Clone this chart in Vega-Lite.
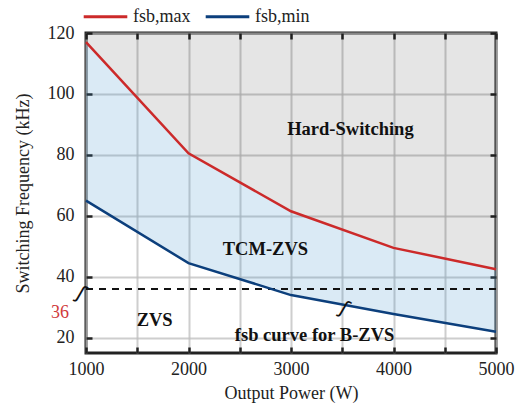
{
  "$schema": "https://vega.github.io/schema/vega-lite/v6.json",
  "width": 410,
  "height": 320,
  "autosize": "none",
  "padding": {"left": 86, "top": 33, "right": 26, "bottom": 56},
  "config": {
    "view": {"stroke": "#222222", "strokeWidth": 3},
    "font": "Liberation Serif",
    "axis": {
      "labelFont": "Liberation Serif",
      "titleFont": "Liberation Serif",
      "labelFontSize": 18,
      "titleFontSize": 18,
      "labelColor": "#222222",
      "titleColor": "#222222",
      "titleFontWeight": "normal",
      "domain": false,
      "tickColor": "#222222",
      "tickWidth": 2.5,
      "tickSize": -6,
      "gridColor": "#bdbdbd",
      "gridWidth": 2,
      "gridOpacity": 0.75
    }
  },
  "datasets": {
    "curves": [
      {"P": 1000, "fmax": 117, "fmin": 65},
      {"P": 2000, "fmax": 80.5, "fmin": 44.5},
      {"P": 3000, "fmax": 61.5, "fmin": 34},
      {"P": 4000, "fmax": 49.5, "fmin": 27.8},
      {"P": 5000, "fmax": 42.5, "fmin": 22}
    ],
    "notes": [
      {"P": 3580, "f": 88.5, "label": "Hard-Switching"},
      {"P": 2750, "f": 49, "label": "TCM-ZVS"},
      {"P": 1670, "f": 25.7, "label": "ZVS"},
      {"P": 3230, "f": 21, "label": "fsb curve for B-ZVS"}
    ]
  },
  "resolve": {"axis": {"x": "independent", "y": "independent"}},
  "layer": [
    {
      "data": {"name": "curves"},
      "mark": {"type": "area", "fill": "#000000", "fillOpacity": 0.1},
      "encoding": {
        "x": {
          "field": "P", "type": "quantitative",
          "scale": {"domain": [1000, 5000], "nice": false},
          "axis": {
            "title": "Output Power (W)",
            "values": [1000, 1500, 2000, 2500, 3000, 3500, 4000, 4500, 5000],
            "labelExpr": "datum.value % 1000 == 0 ? datum.value : ''",
            "labelFlush": false,
            "labelPadding": 13,
            "titlePadding": 6,
            "orient": "bottom"
          }
        },
        "y": {
          "field": "fmax", "type": "quantitative",
          "scale": {"domain": [15, 120], "nice": false},
          "axis": {
            "title": "Switching Frequency (kHz)",
            "values": [20, 40, 60, 80, 100, 120],
            "labelPadding": 18,
            "titlePadding": 15,
            "orient": "left"
          }
        },
        "y2": {"datum": 120}
      }
    },
    {
      "data": {"name": "curves"},
      "mark": {"type": "area", "fill": "#3d8fcc", "fillOpacity": 0.19},
      "encoding": {
        "x": {"field": "P", "type": "quantitative", "axis": null},
        "y": {"field": "fmin", "type": "quantitative", "axis": null},
        "y2": {"field": "fmax"}
      }
    },
    {
      "data": {"name": "curves"},
      "mark": {"type": "rule", "strokeDash": [7, 6], "strokeWidth": 2, "color": "#111111"},
      "encoding": {
        "y": {"datum": 36, "type": "quantitative", "axis": null}
      }
    },
    {
      "data": {"name": "curves"},
      "transform": [{"fold": ["fmax", "fmin"], "as": ["series", "f"]}],
      "mark": {"type": "line", "strokeWidth": 2.5},
      "encoding": {
        "x": {"field": "P", "type": "quantitative", "axis": null},
        "y": {"field": "f", "type": "quantitative", "axis": null},
        "color": {
          "field": "series", "type": "nominal",
          "scale": {"domain": ["fmax", "fmin"], "range": ["#cc2a2a", "#0c3f7c"]},
          "legend": {
            "title": null,
            "orient": "none",
            "direction": "horizontal",
            "legendX": -4,
            "legendY": -40,
            "symbolType": "stroke",
            "symbolSize": 1900,
            "symbolStrokeWidth": 3,
            "labelFont": "Liberation Serif",
            "labelFontSize": 18,
            "labelColor": "#222222",
            "columnPadding": 8,
            "labelOffset": 4,
            "labelExpr": "datum.value == 'fmax' ? 'fsb,max' : 'fsb,min'"
          }
        }
      }
    },
    {
      "data": {"name": "notes"},
      "mark": {"type": "text", "fontWeight": "bold", "fontSize": 18.5, "font": "Liberation Serif", "color": "#111111"},
      "encoding": {
        "x": {"field": "P", "type": "quantitative", "axis": null},
        "y": {"field": "f", "type": "quantitative", "axis": null},
        "text": {"field": "label"}
      }
    },
    {
      "data": {"values": [{"P": 1000, "f": 28, "label": "36"}]},
      "mark": {"type": "text", "fontSize": 18, "font": "Liberation Serif", "color": "#d0393b", "align": "right", "dx": -17},
      "encoding": {
        "x": {"field": "P", "type": "quantitative", "axis": null},
        "y": {"field": "f", "type": "quantitative", "axis": null},
        "text": {"field": "label"}
      }
    },
    {
      "data": {"values": [{"P": 1000, "f": 33.5}, {"P": 3570, "f": 28.5}]},
      "mark": {"type": "text", "fontSize": 20, "font": "DejaVu Sans", "color": "#111111", "text": "ʃ", "angle": 30, "dx": -6},
      "encoding": {
        "x": {"field": "P", "type": "quantitative", "axis": null},
        "y": {"field": "f", "type": "quantitative", "axis": null}
      }
    },
    {
      "data": {"name": "curves"},
      "mark": {"type": "point", "opacity": 0},
      "encoding": {
        "x": {
          "field": "P", "type": "quantitative",
          "axis": {"orient": "top", "title": null, "labels": false, "grid": false,
                   "values": [1000, 1500, 2000, 2500, 3000, 3500, 4000, 4500, 5000]}
        },
        "y": {
          "field": "fmin", "type": "quantitative",
          "axis": {"orient": "right", "title": null, "labels": false, "grid": false,
                   "values": [20, 40, 60, 80, 100, 120]}
        }
      }
    }
  ]
}
